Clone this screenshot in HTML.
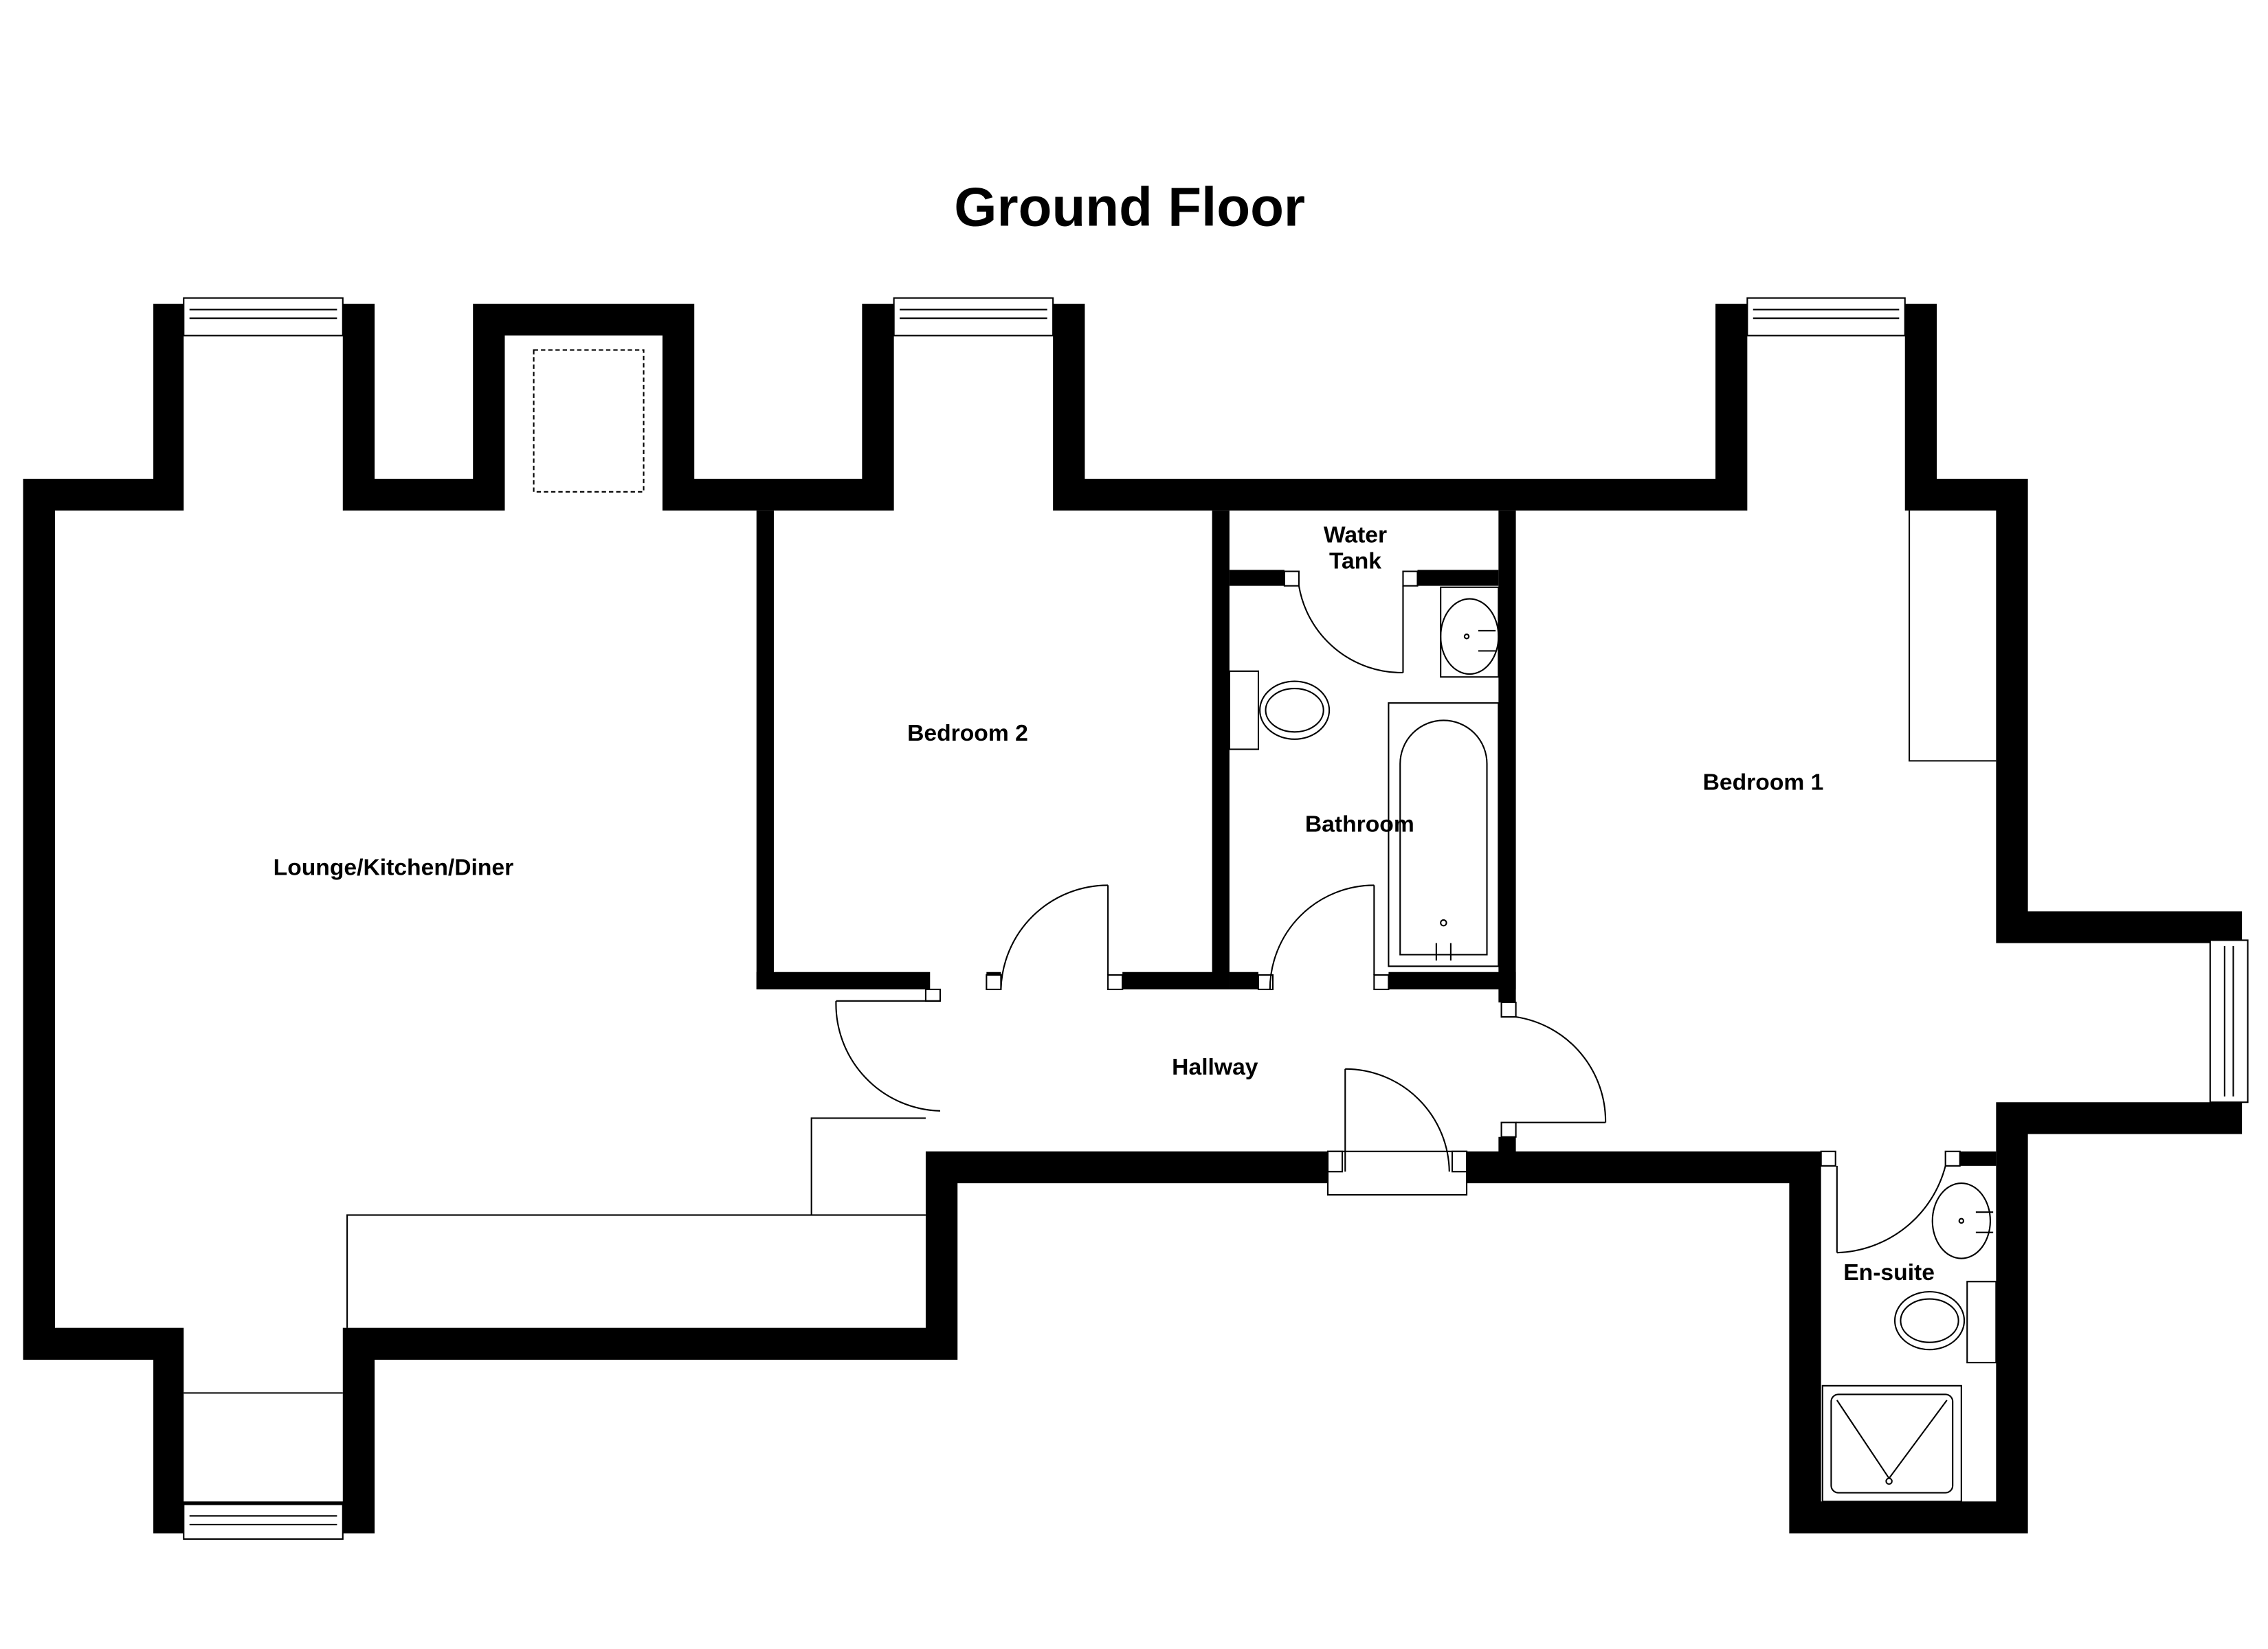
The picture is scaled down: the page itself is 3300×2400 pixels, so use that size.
<!DOCTYPE html>
<html><head><meta charset="utf-8"><style>
html,body{margin:0;padding:0;background:#fff;}
svg{display:block;}
text{font-family:"Liberation Sans",Arial,sans-serif;font-weight:bold;fill:#000;}
</style></head><body>
<svg width="3300" height="2400" viewBox="0 0 1568 1140" preserveAspectRatio="none" xmlns="http://www.w3.org/2000/svg">
<rect width="1568" height="1140" fill="#fff"/>
<text x="781" y="156" font-size="38" text-anchor="middle">Ground Floor</text>
<path fill="#000" fill-rule="evenodd" d="M16,331 L106,331 L106,210 L259,210 L259,331 L327,331 L327,210 L480,210 L480,331 L596,331 L596,210 L750,210 L750,331 L1186,331 L1186,210 L1339,210 L1339,331 L1402,331 L1402,630 L1550,630 L1550,784 L1402,784 L1402,1060 L1237,1060 L1237,818 L662,818 L662,940 L259,940 L259,1060 L106,1060 L106,940 L16,940 Z
M38,353 L127,353 L127,232 L237,232 L237,353 L349,353 L349,232 L458,232 L458,353 L618,353 L618,232 L728,232 L728,353 L1208,353 L1208,232 L1317,232 L1317,353 L1380,353 L1380,652 L1528,652 L1528,762 L1380,762 L1380,1038 L1259,1038 L1259,796 L640,796 L640,918 L237,918 L237,1038 L127,1038 L127,918 L38,918 Z"/>
<g fill="#000">
<rect x="523" y="353" width="12" height="331"/>
<rect x="523" y="672" width="120" height="12"/>
<rect x="640" y="684" width="10" height="8"/>
<rect x="682" y="672" width="10" height="12"/>
<rect x="776" y="672" width="74" height="12"/>
<rect x="838" y="353" width="12" height="331"/>
<rect x="850" y="672" width="20" height="12"/>
<rect x="960" y="672" width="88" height="12"/>
<rect x="1036" y="353" width="12" height="340"/>
<rect x="1036" y="786" width="12" height="12"/>
<rect x="850" y="394" width="38" height="11"/>
<rect x="980" y="394" width="56" height="11"/>
<rect x="1355" y="796" width="25" height="10"/>
</g>
<g fill="#fff" stroke="#000" stroke-width="1">
<rect x="682" y="674" width="10" height="10"/><rect x="766" y="674" width="10" height="10"/>
<rect x="870" y="674" width="10" height="10"/><rect x="950" y="674" width="10" height="10"/>
<rect x="888" y="395" width="10" height="10"/><rect x="970" y="395" width="10" height="10"/>
<rect x="1038" y="693" width="10" height="10"/><rect x="1038" y="776" width="10" height="10"/>
<rect x="1259" y="796" width="10" height="10"/><rect x="1345" y="796" width="10" height="10"/>
<rect x="640" y="684" width="10" height="8"/>
</g>
<g fill="#fff" stroke="#000" stroke-width="1">
<rect x="127" y="206" width="110" height="26"/><line x1="131" y1="214" x2="233" y2="214"/><line x1="131" y1="220" x2="233" y2="220"/>
<rect x="618" y="206" width="110" height="26"/><line x1="622" y1="214" x2="724" y2="214"/><line x1="622" y1="220" x2="724" y2="220"/>
<rect x="1208" y="206" width="109" height="26"/><line x1="1212" y1="214" x2="1313" y2="214"/><line x1="1212" y1="220" x2="1313" y2="220"/>
<rect x="127" y="1040" width="110" height="24"/><line x1="131" y1="1048" x2="233" y2="1048"/><line x1="131" y1="1054" x2="233" y2="1054"/>
<rect x="1528" y="650" width="26" height="112"/><line x1="1538" y1="654" x2="1538" y2="758"/><line x1="1544" y1="654" x2="1544" y2="758"/>
<rect x="918" y="796" width="96" height="30"/><rect x="918" y="796" width="10" height="14"/><rect x="1004" y="796" width="10" height="14"/>
</g>
<g fill="none" stroke="#000" stroke-width="1">
<line x1="766" y1="612" x2="766" y2="674"/><path d="M766,612 A74,74 0 0 0 692,684"/>
<line x1="950" y1="612" x2="950" y2="674"/><path d="M950,612 A72,72 0 0 0 878,684"/>
<line x1="970" y1="405" x2="970" y2="465"/><path d="M898,405 A72,72 0 0 0 970,465"/>
<path d="M1110,776 A73,73 0 0 0 1048,703"/><line x1="1048" y1="776" x2="1110" y2="776"/>
<line x1="578" y1="692" x2="650" y2="692"/><path d="M578,692 A74,74 0 0 0 650,768"/>
<line x1="930" y1="739" x2="930" y2="810"/><path d="M930,739 A72,72 0 0 1 1002,810"/>
<line x1="1270" y1="806" x2="1270" y2="866"/><path d="M1270,866 A80,80 0 0 0 1345,806"/>
</g>
<g fill="none" stroke="#000" stroke-width="1">
<rect x="369" y="242" width="76" height="98" stroke-dasharray="3,2"/>
<polyline points="561,840 561,773 640,773"/>
<polyline points="240,918 240,840 640,840"/>
<polyline points="1320,353 1320,526 1380,526"/>
<line x1="127" y1="963" x2="237" y2="963"/>
<rect x="960" y="486" width="76" height="182"/>
<path d="M968,660 L968,528 A30,30 0 0 1 1028,528 L1028,660 Z"/>
<circle cx="998" cy="638" r="2"/>
<line x1="993" y1="652" x2="993" y2="664"/><line x1="1003" y1="652" x2="1003" y2="664"/>
<rect x="850" y="464" width="20" height="54"/>
<ellipse cx="895" cy="491" rx="24" ry="20"/><ellipse cx="895" cy="491" rx="20" ry="15"/>
<rect x="996" y="406" width="40" height="62"/>
<ellipse cx="1016" cy="440" rx="20" ry="26"/><circle cx="1014" cy="440" r="1.5"/>
<line x1="1022" y1="436" x2="1034" y2="436"/><line x1="1022" y1="450" x2="1034" y2="450"/>
<ellipse cx="1356" cy="844" rx="20" ry="26"/><circle cx="1356" cy="844" r="1.5"/>
<line x1="1366" y1="838" x2="1378" y2="838"/><line x1="1366" y1="852" x2="1378" y2="852"/>
<rect x="1360" y="886" width="20" height="56"/>
<ellipse cx="1334" cy="913" rx="24" ry="20"/><ellipse cx="1334" cy="913" rx="20" ry="15"/>
<rect x="1260" y="958" width="96" height="80"/>
<rect x="1266" y="964" width="84" height="68" rx="5"/>
<line x1="1270" y1="968" x2="1306" y2="1022"/><line x1="1346" y1="968" x2="1306" y2="1022"/>
<circle cx="1306" cy="1024" r="2"/>
</g>
<g font-size="16" text-anchor="middle">
<text x="272" y="605">Lounge/Kitchen/Diner</text>
<text x="669" y="512">Bedroom 2</text>
<text x="937" y="375">Water</text>
<text x="937" y="393">Tank</text>
<text x="940" y="575">Bathroom</text>
<text x="1219" y="546">Bedroom 1</text>
<text x="840" y="743">Hallway</text>
<text x="1306" y="885">En-suite</text>
</g>
</svg>
</body></html>
